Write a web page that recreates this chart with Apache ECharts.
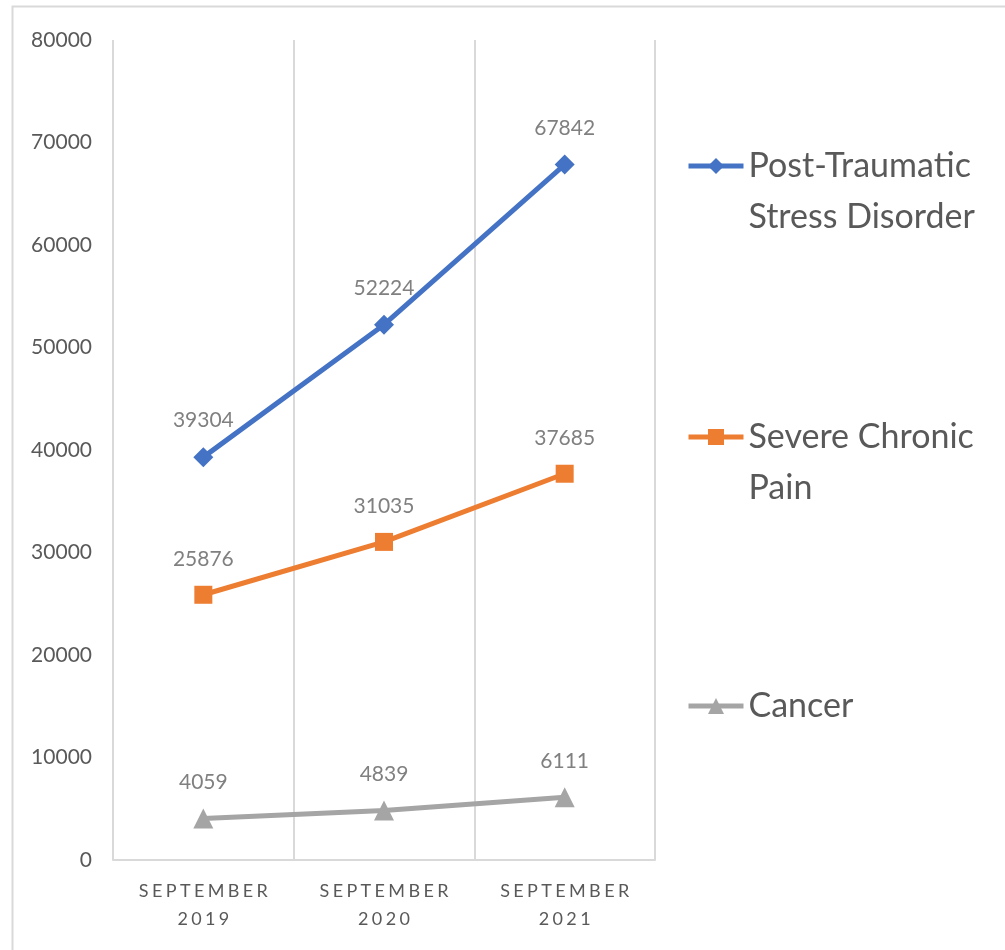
<!DOCTYPE html>
<html>
<head>
<meta charset="utf-8">
<script src="https://cdn.jsdelivr.net/npm/echarts@6/dist/echarts.min.js"></script>
<style>html,body{margin:0;padding:0;background:#fff;}#c{width:1005px;height:950px;}</style>
</head>
<body>
<div id="c"></div>
<script>
const categories = ['SEPTEMBER 2019', 'SEPTEMBER 2020', 'SEPTEMBER 2021'];
const ptsd = [39304, 52224, 67842];
const pain = [25876, 31035, 37685];
const cancer = [4059, 4839, 6111];
const seriesNames = ['Post-Traumatic Stress Disorder', 'Severe Chronic Pain', 'Cancer'];
const legendLabels = ['Post-Traumatic\nStress Disorder', 'Severe Chronic\nPain', 'Cancer'];
const colors = ['#4472C4', '#ED7D31', '#A5A5A5'];
const yTicks = { min: 0, max: 80000, interval: 10000 };

const FONT = 'Lato, "Open Sans", sans-serif';
const spaced = s => s.split('').join('\u2009\u200A');
const LH = 51;

const chart = echarts.init(document.getElementById('c'), null, { renderer: 'canvas' });

function lineSeries(i, data, symbol, size) {
  return {
    name: seriesNames[i], type: 'line', data: data,
    symbol: symbol, symbolSize: size,
    lineStyle: { color: colors[i], width: 5 },
    itemStyle: { color: colors[i] },
    label: { show: true, position: 'top', distance: 16, color: '#808080', fontSize: 21, fontFamily: FONT },
    z: 3 - i
  };
}

function legendAt(i, iconY) {
  const multi = legendLabels[i].indexOf('\n') >= 0;
  const blockH = multi ? 3 * LH : LH;
  return {
    show: true, data: [seriesNames[i]], left: 686, top: iconY - blockH / 2, orient: 'vertical',
    padding: 0, itemWidth: 55, itemHeight: 20, itemGap: 0,
    lineStyle: { width: 5 },
    formatter: () => (multi ? ' \n' : '') + legendLabels[i],
    textStyle: { fontSize: 34, fontFamily: FONT, color: '#595959', lineHeight: LH },
    selectedMode: false
  };
}

chart.setOption({
  backgroundColor: '#fff',
  animation: false,
  color: colors,
  graphic: [{
    type: 'rect', shape: { x: 12.5, y: 6.5, width: 1100, height: 1100 },
    style: { fill: 'none', stroke: '#d9d9d9', lineWidth: 2 }, silent: true, z: -10
  }],
  grid: { left: 113, right: 350, top: 40, bottom: 90, containLabel: false },
  legend: [legendAt(0, 166), legendAt(1, 437), legendAt(2, 706)],
  xAxis: {
    type: 'category', data: categories, boundaryGap: true,
    axisLine: { show: true, lineStyle: { color: '#d9d9d9', width: 2 } },
    axisTick: { show: false },
    splitLine: { show: true, lineStyle: { color: '#d9d9d9', width: 2 } },
    axisLabel: {
      margin: 17, color: '#595959', fontSize: 18, fontFamily: FONT, lineHeight: 28,
      formatter: v => v.split(' ').map(spaced).join('\n')
    }
  },
  yAxis: {
    type: 'value', min: yTicks.min, max: yTicks.max, interval: yTicks.interval,
    axisLine: { show: false }, axisTick: { show: false }, splitLine: { show: false },
    axisLabel: { margin: 21, color: '#595959', fontSize: 21, fontFamily: FONT, formatter: v => String(v) }
  },
  series: [
    lineSeries(0, ptsd, 'diamond', 20),
    lineSeries(1, pain, 'rect', 18),
    lineSeries(2, cancer, 'triangle', 20)
  ]
});
</script>
</body>
</html>
